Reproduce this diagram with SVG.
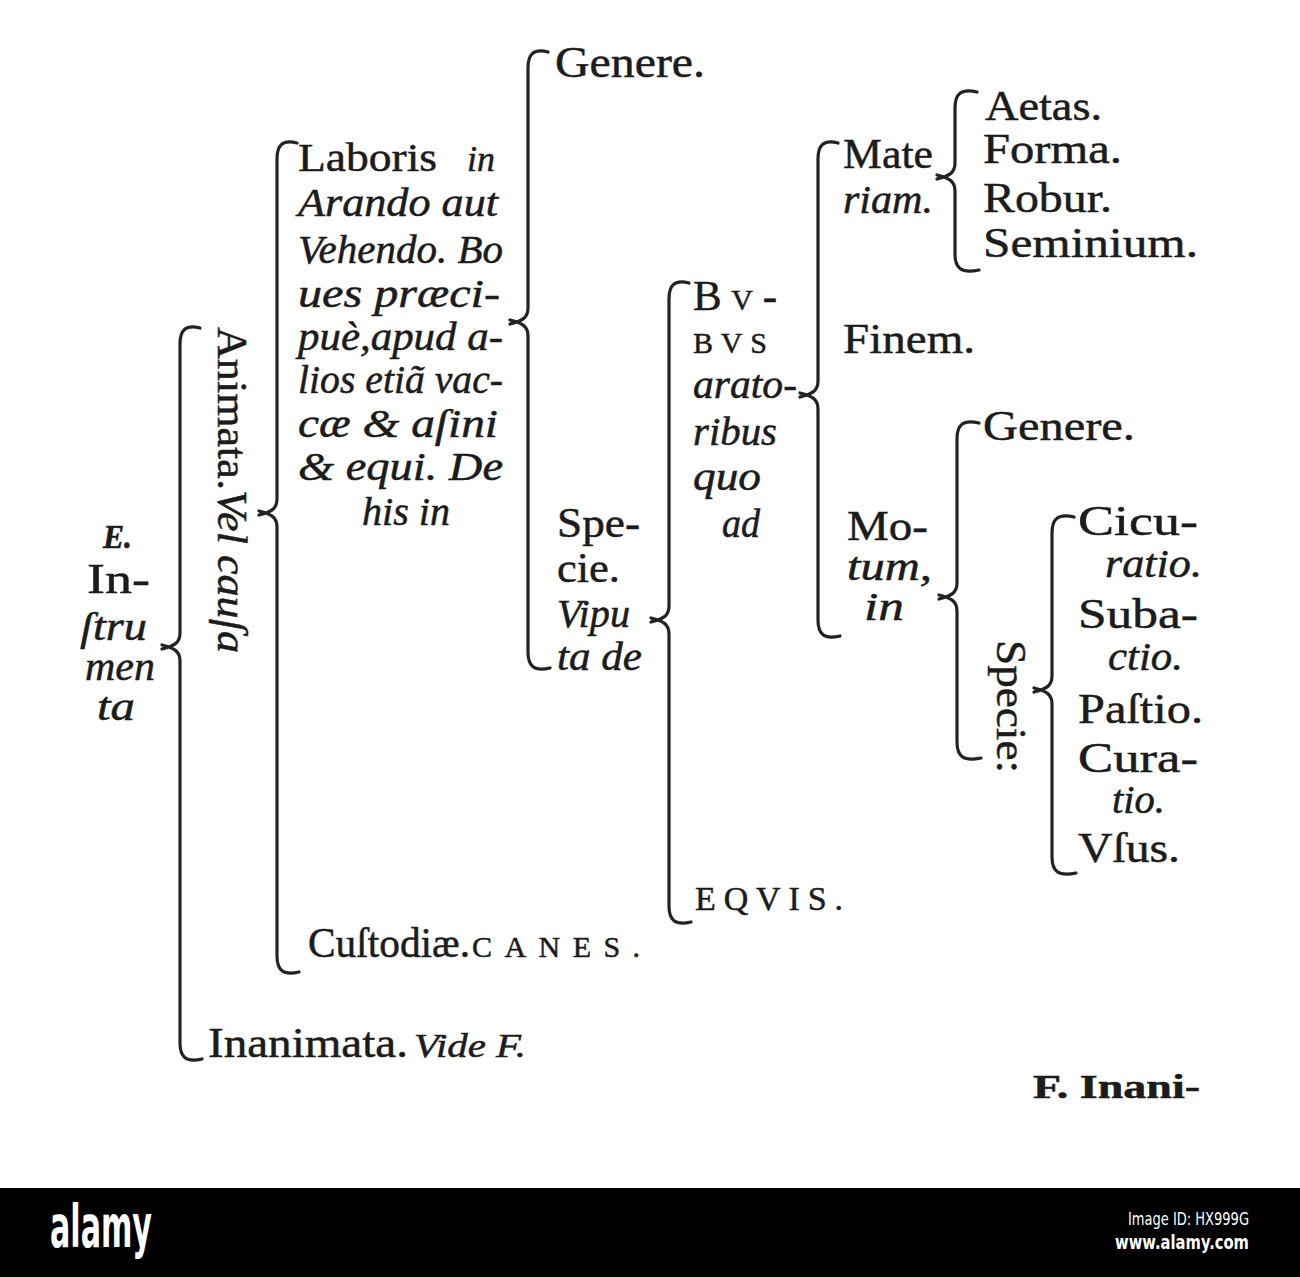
<svg xmlns="http://www.w3.org/2000/svg" width="1300" height="1277" viewBox="0 0 1300 1277">
<style>
text{font-family:"Liberation Serif","Times New Roman",serif;fill:#1c1c1c;stroke:#1c1c1c;stroke-width:0.5;}
.r{font-size:43px;}
.i{font-size:39px;font-style:italic;}
.sc{font-size:30px;}
.br{fill:none;stroke:#232323;stroke-width:3.2;stroke-linecap:round;stroke-linejoin:round;}
.w{fill:#fff;stroke:none;font-family:"DejaVu Sans","Liberation Sans",sans-serif;}
</style>
<rect x="0" y="0" width="1300" height="1277" fill="#ffffff"/>
<g id="connectors">
<path class="br" d="M200,328 C186,324 180,330 180,344 L180,633 C180,643 174,646 162,649 M162,645 C174,648 180,651 180,661 L180,1043 C180,1057 186,1063 202,1059"/>
<path class="br" d="M297,143 C283,139 277,145 277,159 L277,499 C277,509 271,512 259,515 M259,511 C271,514 277,517 277,527 L277,956 C277,970 283,976 299,972"/>
<path class="br" d="M548,52 C534,48 528,54 528,68 L528,308 C528,318 522,321 510,324 M510,320 C522,323 528,326 528,336 L528,652 C528,666 534,672 550,668"/>
<path class="br" d="M689,283 C675,279 669,285 669,299 L669,606 C669,616 663,619 651,622 M651,618 C663,621 669,624 669,634 L669,906 C669,920 675,926 691,922"/>
<path class="br" d="M838,143 C824,139 818,145 818,159 L818,381 C818,391 812,394 800,397 M800,393 C812,396 818,399 818,409 L818,620 C818,634 824,640 840,636"/>
<path class="br" d="M977,92 C961,88 955,94 955,108 L955,163 C955,173 949,176 937,179 M937,175 C949,178 955,181 955,191 L955,254 C955,268 961,274 979,270"/>
<path class="br" d="M979,423 C963,419 957,425 957,439 L957,583 C957,593 951,596 939,599 M939,595 C951,598 957,601 957,611 L957,742 C957,756 963,762 981,758"/>
<path class="br" d="M1074,517 C1058,513 1052,519 1052,533 L1052,676 C1052,686 1046,689 1034,692 M1034,688 C1046,691 1052,694 1052,704 L1052,857 C1052,871 1058,877 1076,873"/>
</g>
<g id="node-instrumenta">
<text x="103" y="548" style="font-size:34px;font-style:italic;font-weight:bold" textLength="29" lengthAdjust="spacingAndGlyphs">E.</text>
<text x="87" y="593" class="r" textLength="63" lengthAdjust="spacingAndGlyphs">In-</text>
<text x="80" y="640" class="i" textLength="67" lengthAdjust="spacingAndGlyphs">ſtru</text>
<text x="85" y="680" class="i" textLength="70" lengthAdjust="spacingAndGlyphs">men</text>
<text x="97" y="720" class="i" textLength="38" lengthAdjust="spacingAndGlyphs">ta</text>
</g>
<g id="node-animata">
<text class="r" transform="translate(218,327) rotate(90)" textLength="326" lengthAdjust="spacingAndGlyphs">Animata.<tspan style="font-style:italic">Vel cauſa</tspan></text>
</g>
<g id="node-inanimata">
<text x="208" y="1057" class="r" textLength="200" lengthAdjust="spacingAndGlyphs">Inanimata.</text>
<text x="414" y="1057" style="font-size:33px;font-style:italic" textLength="112" lengthAdjust="spacingAndGlyphs">Vide F.</text>
</g>
<g id="node-laboris">
<text x="298" y="171" style="font-size:40px" textLength="139" lengthAdjust="spacingAndGlyphs">Laboris</text>
<text x="467" y="171" style="font-size:36px;font-style:italic" textLength="28" lengthAdjust="spacingAndGlyphs">in</text>
<text x="298" y="216" class="i" textLength="200" lengthAdjust="spacingAndGlyphs">Arando aut</text>
<text x="298" y="263" class="i" textLength="205" lengthAdjust="spacingAndGlyphs">Vehendo. Bo</text>
<text x="298" y="307" class="i" textLength="202" lengthAdjust="spacingAndGlyphs">ues præci-</text>
<text x="298" y="350" class="i" textLength="205" lengthAdjust="spacingAndGlyphs">puè,apud a-</text>
<text x="298" y="393" class="i" textLength="205" lengthAdjust="spacingAndGlyphs">lios etiã vac-</text>
<text x="298" y="437" class="i" textLength="200" lengthAdjust="spacingAndGlyphs">cæ &amp; aſini</text>
<text x="298" y="480" class="i" textLength="205" lengthAdjust="spacingAndGlyphs">&amp; equi. De</text>
<text x="362" y="525" class="i" textLength="88" lengthAdjust="spacingAndGlyphs">his in</text>
</g>
<g id="node-custodiae">
<text x="308" y="957" class="r" textLength="162" lengthAdjust="spacingAndGlyphs">Cuſtodiæ.</text>
<text x="472" y="957" class="sc" textLength="168">CANES.</text>
</g>
<g id="node-genere1">
<text x="555" y="77" class="r" style="font-size:44px" textLength="150" lengthAdjust="spacingAndGlyphs">Genere.</text>
</g>
<g id="node-specie1">
<text x="557" y="537" class="r" textLength="83" lengthAdjust="spacingAndGlyphs">Spe-</text>
<text x="557" y="582" class="r" textLength="63" lengthAdjust="spacingAndGlyphs">cie.</text>
<text x="557" y="627" class="i" textLength="73" lengthAdjust="spacingAndGlyphs">Vipu</text>
<text x="557" y="670" class="i" textLength="85" lengthAdjust="spacingAndGlyphs">ta de</text>
</g>
<g id="node-bubus">
<text x="693" y="310" class="r" textLength="84">B<tspan class="sc">V</tspan>-</text>
<text x="693" y="353" class="sc" textLength="74">BVS</text>
<text x="693" y="398" class="i" textLength="104" lengthAdjust="spacingAndGlyphs">arato-</text>
<text x="693" y="445" class="i" textLength="84" lengthAdjust="spacingAndGlyphs">ribus</text>
<text x="693" y="490" class="i" textLength="68" lengthAdjust="spacingAndGlyphs">quo</text>
<text x="722" y="537" class="i" textLength="38" lengthAdjust="spacingAndGlyphs">ad</text>
</g>
<g id="node-equis">
<text x="695" y="910" style="font-size:34px" textLength="148">EQVIS.</text>
</g>
<g id="node-materiam">
<text x="843" y="168" class="r" textLength="90" lengthAdjust="spacingAndGlyphs">Mate</text>
<text x="843" y="213" class="i" textLength="90" lengthAdjust="spacingAndGlyphs">riam.</text>
</g>
<g id="node-finem">
<text x="843" y="353" class="r" textLength="132" lengthAdjust="spacingAndGlyphs">Finem.</text>
</g>
<g id="node-motum">
<text x="847" y="540" class="r" textLength="81" lengthAdjust="spacingAndGlyphs">Mo-</text>
<text x="847" y="580" class="i" textLength="85" lengthAdjust="spacingAndGlyphs">tum,</text>
<text x="864" y="620" class="i" textLength="40" lengthAdjust="spacingAndGlyphs">in</text>
</g>
<g id="node-aetas">
<text x="985" y="120" class="r" textLength="117" lengthAdjust="spacingAndGlyphs">Aetas.</text>
<text x="983" y="163" class="r" textLength="139" lengthAdjust="spacingAndGlyphs">Forma.</text>
<text x="983" y="212" class="r" textLength="129" lengthAdjust="spacingAndGlyphs">Robur.</text>
<text x="983" y="257" class="r" textLength="215" lengthAdjust="spacingAndGlyphs">Seminium.</text>
</g>
<g id="node-genere2">
<text x="983" y="440" class="r" textLength="152" lengthAdjust="spacingAndGlyphs">Genere.</text>
</g>
<g id="node-specie2">
<text class="r" transform="translate(997,640) rotate(90)" textLength="133" lengthAdjust="spacingAndGlyphs">Specie:</text>
</g>
<g id="node-species-list">
<text x="1078" y="535" class="r" textLength="120" lengthAdjust="spacingAndGlyphs">Cicu-</text>
<text x="1105" y="577" class="i" textLength="97" lengthAdjust="spacingAndGlyphs">ratio.</text>
<text x="1078" y="628" class="r" textLength="120" lengthAdjust="spacingAndGlyphs">Suba-</text>
<text x="1108" y="670" class="i" textLength="75" lengthAdjust="spacingAndGlyphs">ctio.</text>
<text x="1078" y="723" class="r" textLength="125" lengthAdjust="spacingAndGlyphs">Paſtio.</text>
<text x="1078" y="772" class="r" textLength="120" lengthAdjust="spacingAndGlyphs">Cura-</text>
<text x="1112" y="813" class="i" textLength="53" lengthAdjust="spacingAndGlyphs">tio.</text>
<text x="1078" y="862" class="r" textLength="102" lengthAdjust="spacingAndGlyphs">Vſus.</text>
</g>
<g id="node-f-inani">
<text x="1033" y="1098" style="font-size:34px;font-weight:bold" textLength="167" lengthAdjust="spacingAndGlyphs">F. Inani-</text>
</g>
<g id="watermark-bar">
<rect x="0" y="1188" width="1300" height="89" fill="#000"/>
<text class="w" x="50" y="1247" style="font-size:58px;font-weight:bold" textLength="102" lengthAdjust="spacingAndGlyphs">alamy</text>
<text class="w" x="1249" y="1225" text-anchor="end" style="font-size:17px" textLength="121" lengthAdjust="spacingAndGlyphs">Image ID: HX999G</text>
<text class="w" x="1249" y="1249" text-anchor="end" style="font-size:19px;font-weight:bold" textLength="134" lengthAdjust="spacingAndGlyphs">www.alamy.com</text>
</g>
</svg>
